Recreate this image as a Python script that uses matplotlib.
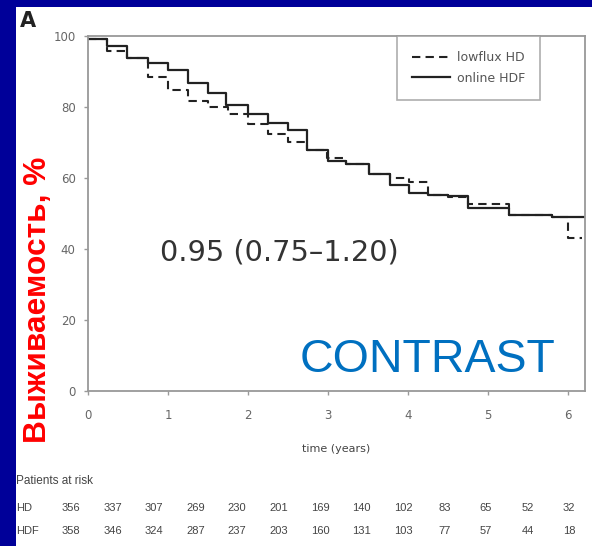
import numpy as np
import matplotlib.pyplot as plt

# Kaplan-Meier steps (time in years, survival in %)
hdf_t = [0, 0.24, 0.49, 0.75, 1.0, 1.25, 1.5, 1.73, 2.0, 2.25, 2.5, 2.74, 3.0,
         3.23, 3.51, 3.77, 4.01, 4.25, 4.5, 4.75, 5.26, 5.8]
hdf_s = [99.1, 97.3, 93.7, 92.5, 90.3, 86.8, 84.0, 80.5, 77.9, 75.6, 73.5, 67.8, 64.8,
         63.9, 61.1, 58.0, 55.7, 55.2, 54.8, 51.5, 49.6, 48.9]
hdf_end = 6.21

hd_t = [0, 0.24, 0.49, 0.75, 1.0, 1.25, 1.5, 1.75, 2.0, 2.25, 2.5, 2.74, 2.99,
        3.23, 3.51, 3.77, 4.01, 4.25, 4.5, 4.75, 5.26, 5.8, 6.0]
hd_s = [99.1, 95.8, 93.7, 88.4, 84.9, 81.7, 79.9, 78.1, 75.3, 72.5, 70.2, 67.8, 65.6,
        63.9, 61.1, 59.9, 59.0, 55.2, 54.7, 52.7, 49.6, 48.9, 43.0]
hd_end = 6.18

risk_hd = [356, 337, 307, 269, 230, 201, 169, 140, 102, 83, 65, 52, 32]
risk_hdf = [358, 346, 324, 287, 237, 203, 160, 131, 103, 77, 57, 44, 18]

W, H = 592, 546
fig = plt.figure(figsize=(W/100, H/100), dpi=100)
fig.patch.set_facecolor('#000099')
# white panel inside the blue frame
fig.patches.append(plt.Rectangle((16/W, 0), 1, 1 - 7/H, transform=fig.transFigure,
                                 facecolor='white', edgecolor='none', zorder=-5))

ax = fig.add_axes([88/W, 1 - 391/H, (585 - 88)/W, (391 - 36)/H])
ax.set_zorder(2)
ax.set_facecolor('white')

ax.step(hd_t + [hd_end], hd_s + [hd_s[-1]], where='post', color='#222222', lw=1.5,
        ls=(0, (4, 2.5)), label='lowflux HD')
ax.step(hdf_t + [hdf_end], hdf_s + [hdf_s[-1]], where='post', color='#222222', lw=1.6,
        label='online HDF')

ax.set_xlim(0, (585 - 88)/80)
ax.set_ylim(0, 100)
ax.set_xticks(range(0, 7))
ax.set_yticks(range(0, 101, 20))
for sp in ax.spines.values():
    sp.set_color('#999999')
    sp.set_linewidth(1.3)
ax.tick_params(colors='#999999', labelcolor='#666666', labelsize=8.5, length=3, width=1)
ax.tick_params(axis='x', pad=10)
ax.tick_params(axis='y', pad=6)
ax.set_xlabel('time (years)', fontsize=8, color='#444444', labelpad=16)

leg = ax.legend(loc='upper right', bbox_to_anchor=(0.91, 1.0), borderaxespad=0,
                fancybox=False, edgecolor='#999999', fontsize=9, handlelength=3.0,
                handletextpad=0.6, labelcolor='#555555', borderpad=1.2,
                labelspacing=0.6)
leg.get_frame().set_linewidth(1.2)

fig.text(20/W, 1 - 21/H, 'A', fontsize=15, fontweight='bold', color='#222222',
         ha='left', va='center')
fig.text(38/W, 1 - 300/H, 'Выживаемость, %', rotation=90, fontsize=22.8,
         fontweight='bold', color='#ff0000', ha='center', va='center',
         family='Liberation Sans')
fig.text(160/W, 1 - 260/H, '0.95 (0.75\u20131.20)', fontsize=20.8, color='#333333',
         ha='left', va='baseline', family='DejaVu Sans')
fig.text(300/W, 1 - 372/H, 'CONTRAST', fontsize=33.5, color='#0070c0',
         ha='left', va='baseline', family='Liberation Sans', zorder=5)

# patients at risk table
fig.text(16/W, 1 - 481/H, 'Patients at risk', fontsize=8.5, color='#444444',
         ha='left', va='center', family='Liberation Sans')
xs = np.linspace(71, 569, len(risk_hd))
for lab, row, y in [('HD', risk_hd, 508), ('HDF', risk_hdf, 531)]:
    fig.text(16/W, 1 - y/H, lab, fontsize=8, color='#444444', ha='left', va='center',
             family='Liberation Sans')
    for x, v in zip(xs, row):
        fig.text(x/W, 1 - y/H, str(v), fontsize=8, color='#444444',
                 ha='center', va='center', family='Liberation Sans')

fig.savefig('out.png', dpi=100, facecolor=fig.get_facecolor())
